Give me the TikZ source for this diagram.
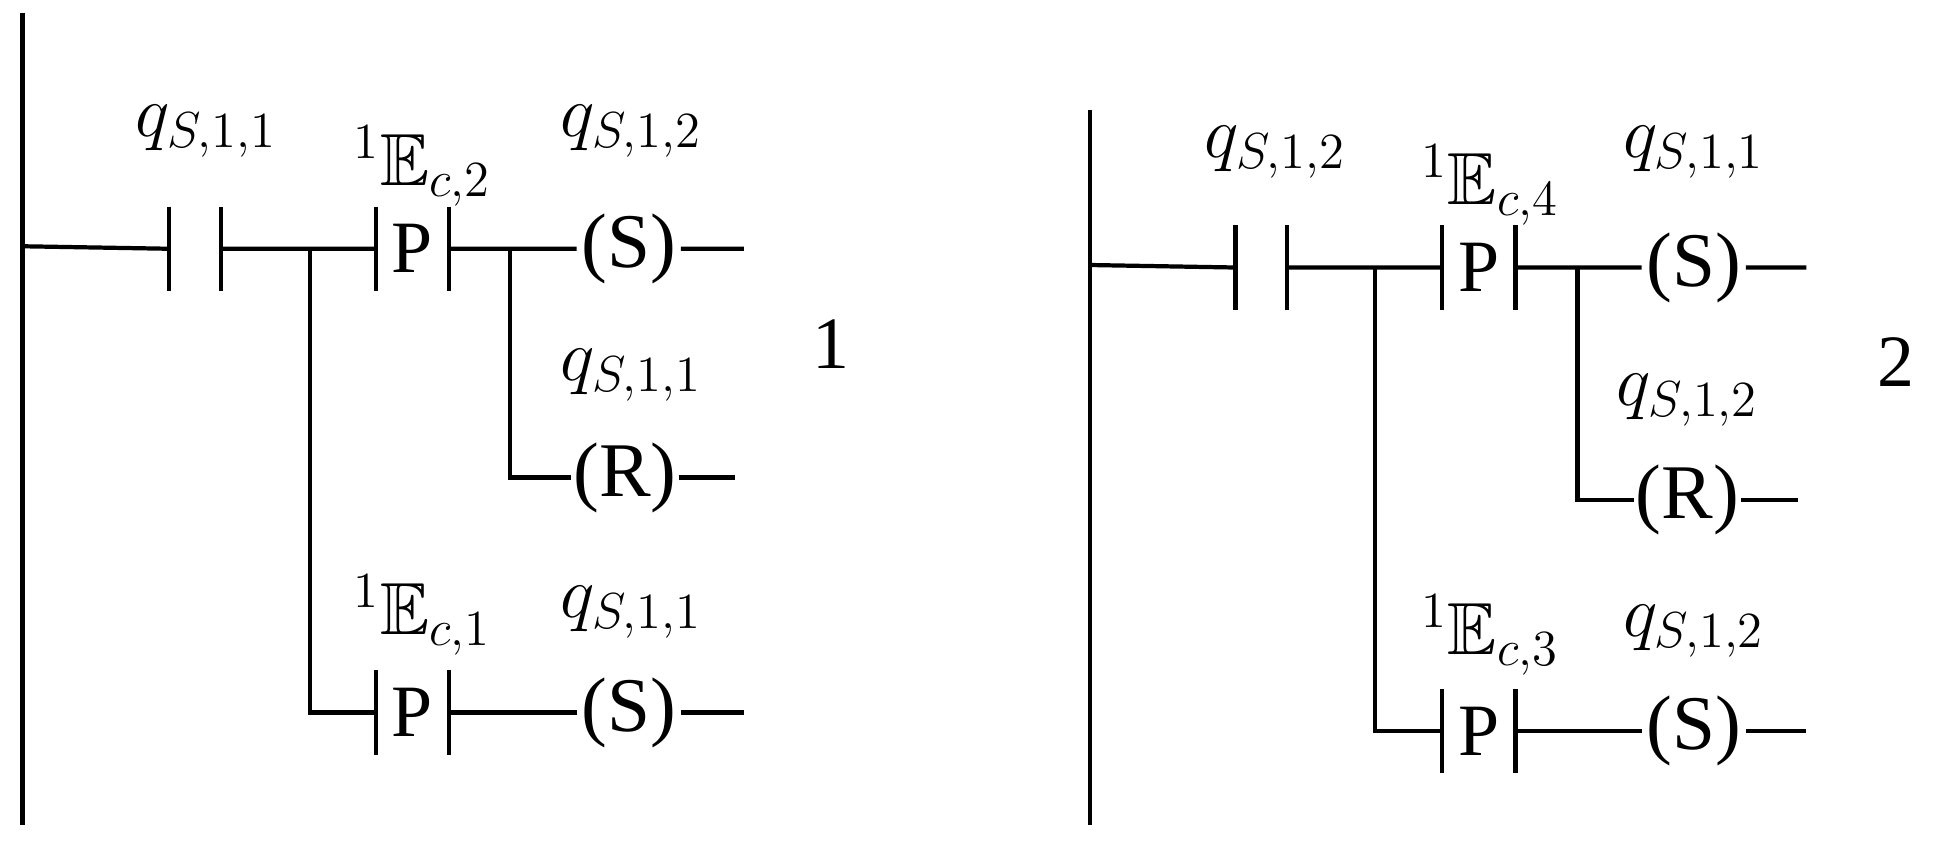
\documentclass[tikz,border=0pt]{standalone}
\usepackage{amssymb}
\usepackage{fontspec}
\setmainfont{Liberation Serif}
\begin{document}
\begin{tikzpicture}[x=0.0125cm,y=-0.0125cm,line width=1.2pt,
  lbl/.style={font=\fontsize{21}{24}\selectfont,inner sep=0pt},
  coil/.style={font=\fontsize{22}{26}\selectfont,inner sep=0pt,minimum width=1cm},
  ptxt/.style={font=\fontsize{21}{24}\selectfont,inner sep=0pt,minimum width=0.69cm,minimum height=0.8cm},
  nc/.style={inner sep=0pt,minimum width=0.475cm,minimum height=0.8cm}]
\useasboundingbox (0,0) rectangle (1556,682.4);
\newcommand{\plates}[1]{\draw (#1.north west)--(#1.south west) (#1.north east)--(#1.south east);}
% ---------- diagram 1
\coordinate (r1t) at (18,10); \coordinate (r1b) at (18,660);
\draw (r1t)--(r1b);
\coordinate (r1m) at (18,197);
\node[nc] (c1) at (156,199) {}; \plates{c1}
\node[ptxt] (p1) at (330,199) {P}; \plates{p1}
\node[coil] (s1) at (503,199) {(S)};
\node[coil] (rr1) at (500,382) {(R)};
\node[ptxt] (p2) at (330,570) {P}; \plates{p2}
\node[coil] (s2) at (503,570) {(S)};
\coordinate (j1) at (248,199); \coordinate (j1b) at (248,570);
\coordinate (j2) at (408,199); \coordinate (j2b) at (408,382);
\coordinate (e1) at (595,199); \coordinate (e2) at (588,382); \coordinate (e3) at (595,570);
\draw (r1m)--(c1.west) (c1.east)--(j1)--(p1.west) (p1.east)--(j2)--(s1.west) (s1.east)--(e1);
\draw (j1)--(j1b)--(p2.west) (p2.east)--(s2.west) (s2.east)--(e3);
\draw (j2)--(j2b)--(rr1.west) (rr1.east)--(e2);
\node[lbl] at (165,105) {$q_{S,1,1}$};
\node[lbl] at (338,133) {$^1\mathbb{E}_{c,2}$};
\node[lbl] at (505,105) {$q_{S,1,2}$};
\node[lbl] at (505,300) {$q_{S,1,1}$};
\node[lbl] at (338,492) {$^1\mathbb{E}_{c,1}$};
\node[lbl] at (505,490) {$q_{S,1,1}$};
\node[lbl] at (665,275) {1};
% ---------- diagram 2
\coordinate (r2t) at (872,88); \coordinate (r2b) at (872,660);
\draw (r2t)--(r2b);
\coordinate (r2m) at (872,212);
\node[nc] (c2) at (1009,214) {}; \plates{c2}
\node[ptxt] (p3) at (1183,214) {P}; \plates{p3}
\node[coil] (s3) at (1355,214) {(S)};
\node[coil] (rr2) at (1350,400) {(R)};
\node[ptxt] (p4) at (1183,585) {P}; \plates{p4}
\node[coil] (s4) at (1355,585) {(S)};
\coordinate (j3) at (1100,214); \coordinate (j3b) at (1100,585);
\coordinate (j4) at (1262,214); \coordinate (j4b) at (1262,400);
\coordinate (e4) at (1445,214); \coordinate (e5) at (1438,400); \coordinate (e6) at (1445,585);
\draw (r2m)--(c2.west) (c2.east)--(j3)--(p3.west) (p3.east)--(j4)--(s3.west) (s3.east)--(e4);
\draw (j3)--(j3b)--(p4.west) (p4.east)--(s4.west) (s4.east)--(e6);
\draw (j4)--(j4b)--(rr2.west) (rr2.east)--(e5);
\node[lbl] at (1020,122) {$q_{S,1,2}$};
\node[lbl] at (1192,148) {$^1\mathbb{E}_{c,4}$};
\node[lbl] at (1355,122) {$q_{S,1,1}$};
\node[lbl] at (1350,320) {$q_{S,1,2}$};
\node[lbl] at (1192,508) {$^1\mathbb{E}_{c,3}$};
\node[lbl] at (1355,505) {$q_{S,1,2}$};
\node[lbl] at (1517,290) {2};
\end{tikzpicture}
\end{document}
